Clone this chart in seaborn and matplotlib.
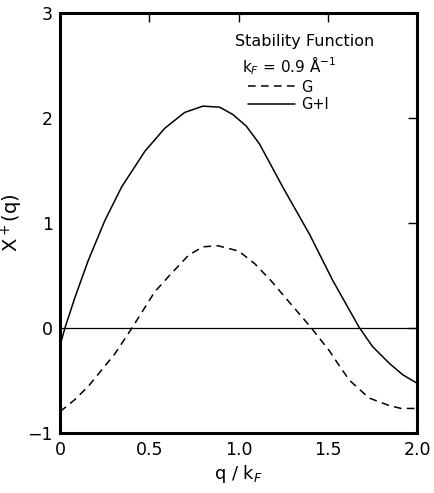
import matplotlib
matplotlib.use("Agg")
import matplotlib.pyplot as plt
import seaborn as sns
import pandas as pd

# Stability function X+(q) versus q/kF for kF = 0.9 1/Angstrom
q_g = [0.0, 0.08, 0.158, 0.307, 0.404, 0.53, 0.62, 0.72, 0.80, 0.884, 1.0, 1.09,
       1.18, 1.275, 1.406, 1.508, 1.555, 1.62, 1.73, 1.84, 1.91, 2.0]
x_g = [-0.80, -0.69, -0.56, -0.25, 0.0, 0.34, 0.51, 0.69, 0.77, 0.78, 0.73, 0.61,
       0.45, 0.26, 0.0, -0.22, -0.34, -0.50, -0.67, -0.74, -0.77, -0.77]

q_gi = [0.0, 0.028, 0.084, 0.158, 0.251, 0.345, 0.475, 0.587, 0.698, 0.80, 0.894,
        0.968, 1.043, 1.117, 1.247, 1.397, 1.527, 1.676, 1.75, 1.844, 1.92, 2.0]
x_gi = [-0.17, 0.0, 0.29, 0.64, 1.02, 1.34, 1.68, 1.90, 2.05, 2.11, 2.10,
        2.03, 1.92, 1.75, 1.34, 0.89, 0.45, 0.0, -0.18, -0.34, -0.45, -0.53]

x_ticks = [0, 0.5, 1.0, 1.5, 2.0]
x_ticklabels = ["0", "0.5", "1.0", "1.5", "2.0"]
y_ticks = [-1, 0, 1, 2, 3]
y_ticklabels = ["\u22121", "0", "1", "2", "3"]

df = pd.concat([
    pd.DataFrame({"q": q_g, "X": x_g, "curve": "G"}),
    pd.DataFrame({"q": q_gi, "X": x_gi, "curve": "G+I"}),
], ignore_index=True)

sns.set_theme(style="white")
plt.rcParams["font.family"] = ["DejaVu Sans"]
plt.rcParams["text.color"] = "black"
plt.rcParams["axes.labelcolor"] = "black"
plt.rcParams["xtick.color"] = "black"
plt.rcParams["ytick.color"] = "black"

fig = plt.figure(figsize=(4.35, 4.93), dpi=100)
ax = fig.add_axes([0.138, 0.1225, 0.821, 0.8517])

sns.lineplot(data=df, x="q", y="X", hue="curve", style="curve",
             palette={"G": "black", "G+I": "black"},
             dashes={"G": (5, 3.5), "G+I": ""},
             linewidth=1.1, ax=ax, legend=True, sort=False)

ax.axhline(0, color="black", linewidth=0.9)

ax.set_xlim(0, 2.0)
ax.set_ylim(-1, 3)
ax.set_xticks(x_ticks)
ax.set_xticklabels(x_ticklabels)
ax.set_yticks(y_ticks)
ax.set_yticklabels(y_ticklabels)
ax.tick_params(direction="in", length=6.5, width=1.0, labelsize=12.5,
               top=True, right=True, colors="black", labelcolor="black")
ax.tick_params(axis="x", pad=6)
ax.tick_params(axis="y", pad=5)

for s in ax.spines.values():
    s.set_linewidth(2.2)
    s.set_color("black")

ax.set_xlabel("q / k$_F$", fontsize=13, labelpad=3, color="black")
ax.set_ylabel("X$^+$(q)", fontsize=14, labelpad=2, color="black")

ax.text(0.49, 0.931, "Stability Function", transform=ax.transAxes,
        fontsize=11.5, ha="left", va="center", color="black")
ax.text(0.51, 0.875, "k$_F$ = 0.9 \u00c5$^{-1}$", transform=ax.transAxes,
        fontsize=11, ha="left", va="center", color="black")

leg = ax.legend(loc="upper left", bbox_to_anchor=(0.49, 0.872), frameon=False,
                handlelength=3.2, handletextpad=0.4, labelspacing=0.15,
                fontsize=10.5, title=None)
for t in leg.get_texts():
    t.set_color("black")

fig.savefig("out.png", dpi=100, facecolor="white")
